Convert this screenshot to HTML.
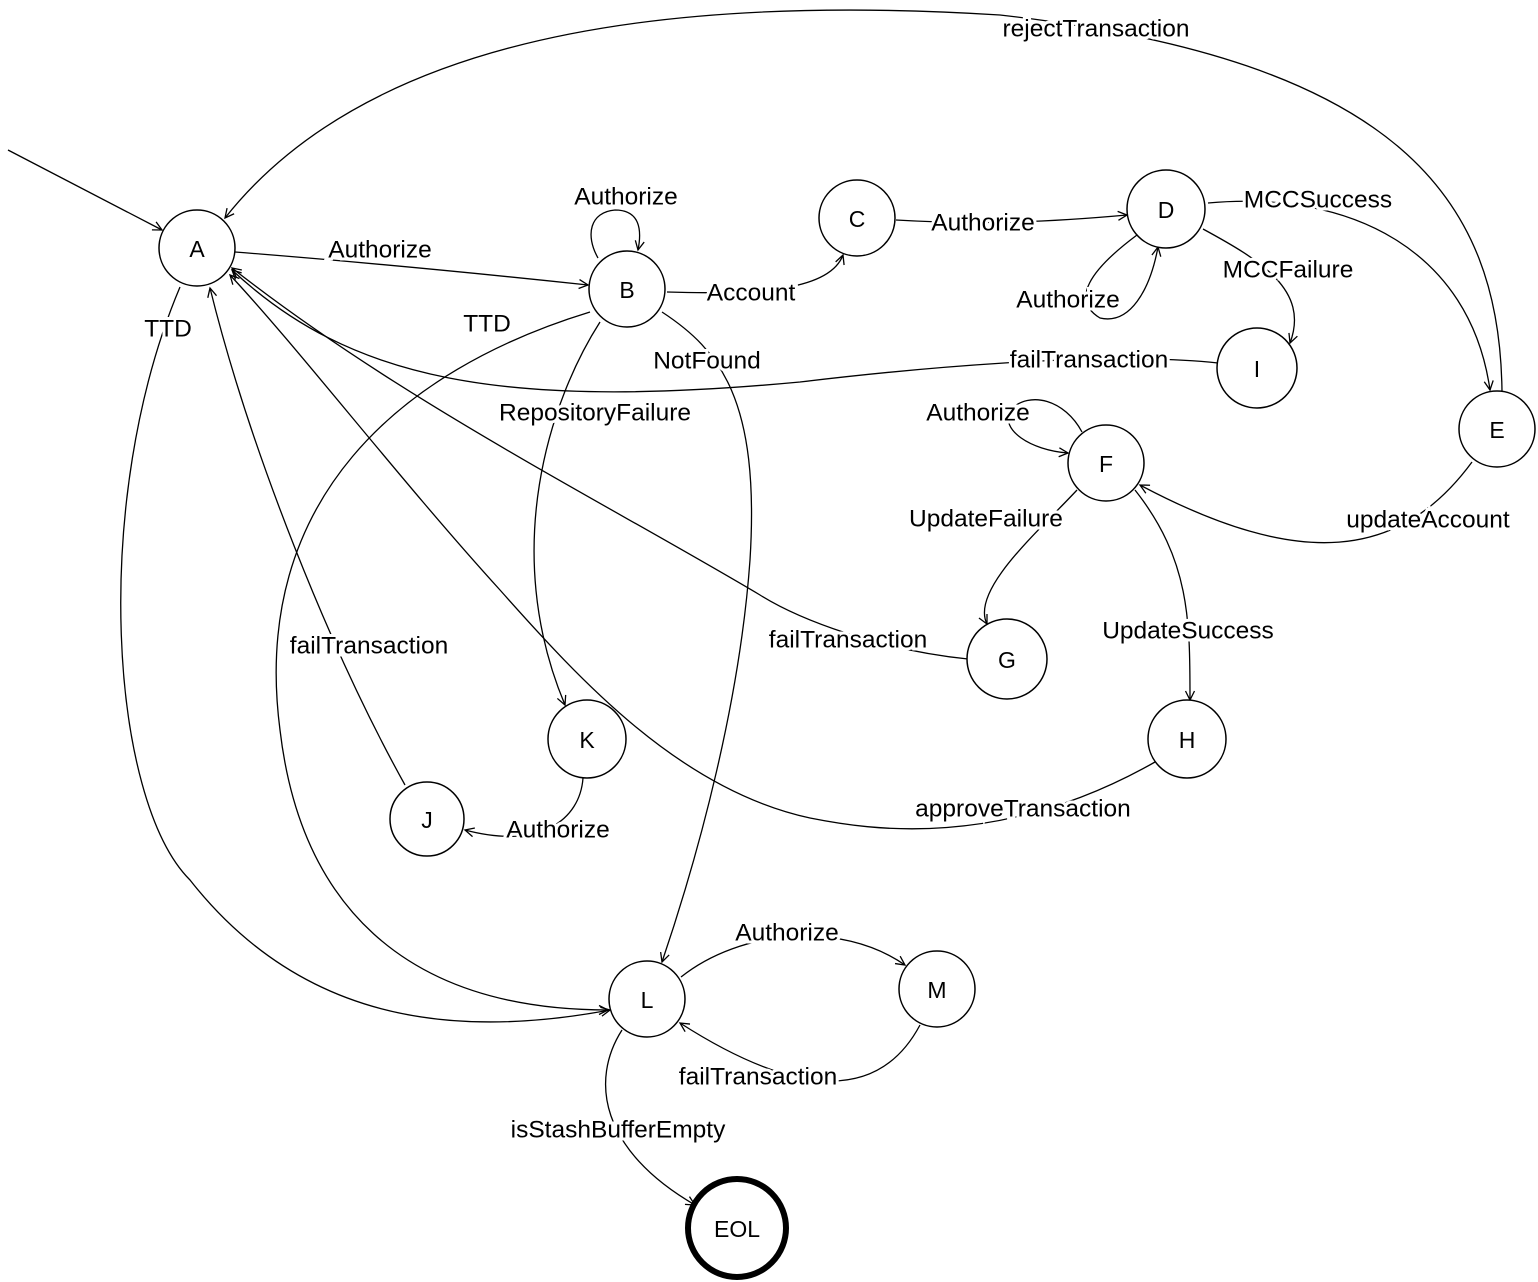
<!DOCTYPE html>
<html><head><meta charset="utf-8"><style>
html,body{margin:0;padding:0;background:#fff;}
svg{display:block;}
text{font-family:"Liberation Sans",sans-serif;font-size:24.5px;fill:#000;}
.lbl{text-anchor:middle;dominant-baseline:central;}
.n{font-size:23px;}
</style></head><body>
<svg width="1538" height="1282" viewBox="0 0 1538 1282" xmlns="http://www.w3.org/2000/svg">
<defs>
<marker id="ar" markerWidth="12" markerHeight="12" refX="10" refY="6" orient="auto" markerUnits="userSpaceOnUse">
<path d="M1,1.5 L10,6 L1,10.5" fill="none" stroke="#000" stroke-width="1.3"/>
</marker>
</defs>
<g fill="none" stroke="#000" stroke-width="1.3" marker-end="url(#ar)">
<path d="M8,150 L162,230"/>
<path d="M235,252 Q400,265 588,285"/>
<path d="M598,258 C585,235 590,212 615,210 C640,210 642,230 638,250"/>
<path d="M667,292 C760,295 830,290 843,255"/>
<path d="M896,220 C980,225 1050,222 1127,215"/>
<path d="M1137,235 C1090,270 1070,300 1100,318 C1130,325 1150,290 1158,247"/>
<path d="M1208,203 C1350,190 1470,250 1490,390"/>
<path d="M1203,229 C1260,260 1310,290 1290,343"/>
<path d="M1502,392 C1500,200 1400,60 1000,15 C600,-10 350,60 225,218"/>
<path d="M1218,363 C1100,350 900,370 800,382 C500,410 350,380 232,270"/>
<path d="M1472,462 C1400,560 1300,570 1140,485"/>
<path d="M1082,432 C1065,400 1030,390 1010,410 C1000,430 1030,450 1068,453"/>
<path d="M1077,490 C1040,530 970,590 987,624"/>
<path d="M1135,490 C1190,560 1190,620 1190,700"/>
<path d="M968,659 C880,650 800,620 760,595 C600,500 400,400 232,268"/>
<path d="M1155,762 C1000,850 870,830 810,818 C680,790 580,680 500,590 C400,480 300,350 230,275"/>
<path d="M590,312 C400,370 250,500 280,730 C300,900 400,1010 608,1010"/>
<path d="M180,287 C90,500 110,800 190,880 C300,1020 450,1040 610,1010"/>
<path d="M662,312 C720,350 760,400 750,560 C740,700 700,850 662,962"/>
<path d="M600,322 C550,400 500,550 565,705"/>
<path d="M583,778 C580,820 540,850 465,830"/>
<path d="M405,785 C330,650 250,450 210,288"/>
<path d="M681,977 C740,930 840,920 905,965"/>
<path d="M920,1025 C880,1100 800,1100 680,1023"/>
<path d="M622,1030 C590,1080 600,1150 695,1205"/>
</g>
<g fill="#fff" stroke="#000" stroke-width="1.5">
<circle cx="197" cy="248" r="38"/>
<circle cx="627" cy="289" r="38"/>
<circle cx="857" cy="218" r="38"/>
<circle cx="1166" cy="209" r="39"/>
<circle cx="1497" cy="429" r="38"/>
<circle cx="1106" cy="463" r="38"/>
<circle cx="1007" cy="659" r="40"/>
<circle cx="1187" cy="739" r="39"/>
<circle cx="1257" cy="368" r="40"/>
<circle cx="427" cy="819" r="37"/>
<circle cx="587" cy="739" r="39"/>
<circle cx="647" cy="999" r="38"/>
<circle cx="937" cy="989" r="38"/>
<circle cx="737" cy="1228" r="49" stroke-width="6"/>
</g>
<g>
<text class="lbl n" x="197" y="249">A</text>
<text class="lbl n" x="627" y="290">B</text>
<text class="lbl n" x="857" y="219">C</text>
<text class="lbl n" x="1166" y="210">D</text>
<text class="lbl n" x="1497" y="430">E</text>
<text class="lbl n" x="1106" y="464">F</text>
<text class="lbl n" x="1007" y="660">G</text>
<text class="lbl n" x="1187" y="740">H</text>
<text class="lbl n" x="1257" y="369">I</text>
<text class="lbl n" x="427" y="820">J</text>
<text class="lbl n" x="587" y="740">K</text>
<text class="lbl n" x="647" y="1000">L</text>
<text class="lbl n" x="937" y="990">M</text>
<text class="lbl n" x="737" y="1229">EOL</text>
</g>
<g style="paint-order:stroke;stroke:#fff;stroke-width:6px">
<text class="lbl" x="380" y="250">Authorize</text>
<text class="lbl" x="626" y="197">Authorize</text>
<text class="lbl" x="751" y="293">Account</text>
<text class="lbl" x="983" y="223">Authorize</text>
<text class="lbl" x="1068" y="300">Authorize</text>
<text class="lbl" x="1318" y="200">MCCSuccess</text>
<text class="lbl" x="1288" y="270">MCCFailure</text>
<text class="lbl" x="1096" y="29">rejectTransaction</text>
<text class="lbl" x="1089" y="360">failTransaction</text>
<text class="lbl" x="1428" y="520">updateAccount</text>
<text class="lbl" x="978" y="413">Authorize</text>
<text class="lbl" x="986" y="519">UpdateFailure</text>
<text class="lbl" x="1188" y="631">UpdateSuccess</text>
<text class="lbl" x="848" y="640">failTransaction</text>
<text class="lbl" x="1023" y="809">approveTransaction</text>
<text class="lbl" x="487" y="324">TTD</text>
<text class="lbl" x="168" y="329">TTD</text>
<text class="lbl" x="707" y="361">NotFound</text>
<text class="lbl" x="595" y="413">RepositoryFailure</text>
<text class="lbl" x="558" y="830">Authorize</text>
<text class="lbl" x="369" y="646">failTransaction</text>
<text class="lbl" x="787" y="933">Authorize</text>
<text class="lbl" x="758" y="1077">failTransaction</text>
<text class="lbl" x="618" y="1130">isStashBufferEmpty</text>
</g>
</svg>
</body></html>
